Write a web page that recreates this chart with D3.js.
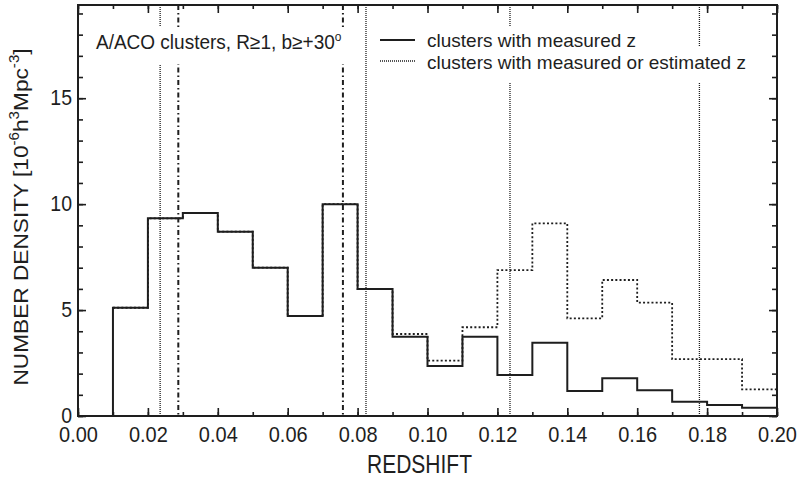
<!DOCTYPE html>
<html>
<head>
<meta charset="utf-8">
<script src="https://cdn.jsdelivr.net/npm/d3@7"></script>
<style>
  body { margin: 0; background: #fff; }
  svg { display: block; }
  text { font-family: "Liberation Sans", Arial, sans-serif; fill: #1e1e1e; }
</style>
</head>
<body>
<div id="chart"></div>
<script>
// histogram bins (lower edge of each 0.01 wide redshift bin)
const binStart = [0.01, 0.02, 0.03, 0.04, 0.05, 0.06, 0.07, 0.08, 0.09, 0.10,
                  0.11, 0.12, 0.13, 0.14, 0.15, 0.16, 0.17, 0.18, 0.19];
const binWidth = 0.01;

// clusters with measured z
const measured = [5.11, 9.33, 9.58, 8.70, 7.00, 4.72, 10.0, 5.99, 3.74, 2.36,
                  3.74, 1.93, 3.46, 1.18, 1.78, 1.21, 0.67, 0.52, 0.39];
// clusters with measured or estimated z
const measuredOrEst = [5.11, 9.33, 9.58, 8.70, 7.00, 4.72, 10.0, 5.99, 3.87, 2.61,
                       4.19, 6.89, 9.09, 4.61, 6.42, 5.35, 2.68, 2.68, 1.26];

// vertical reference lines
const dottedLines = [0.0235, 0.0824, 0.1236, 0.1778];
const dashDotLines = [0.0287, 0.0758];

const xMajor = [0.00, 0.02, 0.04, 0.06, 0.08, 0.10, 0.12, 0.14, 0.16, 0.18, 0.20];
const xMinor = d3.range(0, 21).map(i => i / 100);
const yMajor = [0, 5, 10, 15];
const yMinor = d3.range(0, 20);

const W = 804, H = 483;
const mLeft = 78, mRight = 777, mTop = 5, mBottom = 416;
const SY = 1.12;   // the scan is stretched a bit vertically

const svg = d3.select("#chart").append("svg")
    .attr("width", W).attr("height", H);

const x = d3.scaleLinear().domain([0, 0.2]).range([mLeft, mRight]);
const y = d3.scaleLinear().domain([0, 19.4]).range([mBottom, mTop]);

const ink = "#1e1e1e";

// reference lines
svg.selectAll(".vdot").data(dottedLines).enter().append("line")
    .attr("x1", d => x(d)).attr("x2", d => x(d))
    .attr("y1", mTop).attr("y2", mBottom)
    .attr("stroke", ink).attr("stroke-width", 1.3)
    .attr("stroke-dasharray", "1,1");

svg.selectAll(".vdd").data(dashDotLines).enter().append("line")
    .attr("x1", d => x(d)).attr("x2", d => x(d))
    .attr("y1", mTop).attr("y2", mBottom)
    .attr("stroke", ink).attr("stroke-width", 2)
    .attr("stroke-dasharray", "5,3,1.5,3");

// histogram lines
function stepPoints(vals, startFromZero) {
    const pts = binStart.map((b, i) => [b, vals[i]]);
    pts.push([binStart[binStart.length - 1] + binWidth, vals[vals.length - 1]]);
    if (startFromZero) pts.unshift([binStart[0], 0]);
    return pts;
}
const stepLine = d3.line()
    .x(d => x(d[0]))
    .y(d => y(d[1]))
    .curve(d3.curveStepAfter);

svg.append("path")
    .datum(stepPoints(measuredOrEst, false))
    .attr("fill", "none")
    .attr("stroke", ink)
    .attr("stroke-width", 1.8)
    .attr("stroke-dasharray", "2,2.2")
    .attr("d", stepLine);

svg.append("path")
    .datum(stepPoints(measured, true))
    .attr("fill", "none")
    .attr("stroke", ink)
    .attr("stroke-width", 2)
    .attr("d", stepLine);

// stretched text helper
function sText(x0, y0, size, sy) {
    return svg.append("g")
        .attr("transform", `translate(${x0},${y0}) scale(1,${sy})`)
        .append("text")
        .attr("font-size", size);
}

// header texts with white boxes behind (they interrupt the reference lines)
const title = sText(96, 49, 19, 1.05);
title.append("tspan").text("A/ACO clusters, R\u22651, b\u2265+30");
title.append("tspan").attr("font-size", 12).attr("dy", -8).text("o");

const leg1 = sText(427, 47, 19, 1);
leg1.text("clusters with measured z");
const leg2 = sText(427, 68.5, 19, 1);
leg2.text("clusters with measured or estimated z");

function whiteBox(t, x0, y0, extra) {
    const bb = t.node().getBBox();
    svg.insert("rect", "g")
        .attr("x", x0).attr("y", y0 - 22)
        .attr("width", bb.width + extra)
        .attr("height", 37)
        .attr("fill", "#fff");
}
whiteBox(title, 88, 49, 16);
whiteBox(leg1, 372, 48, 70);
whiteBox(leg2, 372, 68, 70);

// legend samples
svg.append("line")
    .attr("x1", 380).attr("x2", 415).attr("y1", 40).attr("y2", 40)
    .attr("stroke", ink).attr("stroke-width", 2);
svg.append("line")
    .attr("x1", 380).attr("x2", 415).attr("y1", 61).attr("y2", 61)
    .attr("stroke", ink).attr("stroke-width", 1.3)
    .attr("stroke-dasharray", "1,1");

// axes (ticks point inward on all sides)
function styleAxis(g) {
    g.select(".domain").remove();
    g.selectAll("line").attr("stroke", ink).attr("stroke-width", 1.6);
}

svg.append("g").attr("transform", `translate(0,${mBottom})`)
    .call(d3.axisBottom(x).tickValues(xMinor).tickSize(-4).tickFormat(""))
    .call(styleAxis);
const xAx = svg.append("g").attr("transform", `translate(0,${mBottom})`)
    .call(d3.axisBottom(x).tickValues(xMajor).tickSize(-8).tickPadding(10)
        .tickFormat(d3.format(".2f")))
    .call(styleAxis);
xAx.selectAll("text")
    .attr("font-size", 20).attr("fill", ink)
    .attr("transform", `scale(1,${SY})`)
    .attr("y", 10 / SY);

svg.append("g").attr("transform", `translate(0,${mTop})`)
    .call(d3.axisTop(x).tickValues(xMinor).tickSize(-4).tickFormat(""))
    .call(styleAxis);
svg.append("g").attr("transform", `translate(0,${mTop})`)
    .call(d3.axisTop(x).tickValues(xMajor).tickSize(-8).tickFormat(""))
    .call(styleAxis);

svg.append("g").attr("transform", `translate(${mLeft},0)`)
    .call(d3.axisLeft(y).tickValues(yMinor).tickSize(-5).tickFormat(""))
    .call(styleAxis);
const yAx = svg.append("g").attr("transform", `translate(${mLeft},0)`)
    .call(d3.axisLeft(y).tickValues(yMajor).tickSize(-8).tickPadding(6))
    .call(styleAxis);
yAx.selectAll("text")
    .attr("font-size", 19.5).attr("fill", ink)
    .attr("dy", "0.28em")
    .attr("transform", `scale(1,${SY})`);

svg.append("g").attr("transform", `translate(${mRight},0)`)
    .call(d3.axisRight(y).tickValues(yMinor).tickSize(-5).tickFormat(""))
    .call(styleAxis);
svg.append("g").attr("transform", `translate(${mRight},0)`)
    .call(d3.axisRight(y).tickValues(yMajor).tickSize(-8).tickFormat(""))
    .call(styleAxis);

// frame
svg.append("rect")
    .attr("x", mLeft).attr("y", mTop)
    .attr("width", mRight - mLeft).attr("height", mBottom - mTop)
    .attr("fill", "none").attr("stroke", ink).attr("stroke-width", 2);

// axis titles
sText(419.5, 473, 21, 1.2)
    .attr("text-anchor", "middle")
    .text("REDSHIFT");

const yl = svg.append("g")
    .attr("transform", `translate(28,217) rotate(-90) scale(1.08,1)`)
    .append("text")
    .attr("font-size", 21)
    .attr("text-anchor", "middle");
yl.append("tspan").text("NUMBER DENSITY  [10");
yl.append("tspan").attr("font-size", 14).attr("dy", -9).text("-6");
yl.append("tspan").attr("dy", 9).text("h");
yl.append("tspan").attr("font-size", 14).attr("dy", -9).text("3");
yl.append("tspan").attr("dy", 9).text("Mpc");
yl.append("tspan").attr("font-size", 14).attr("dy", -9).text("-3");
yl.append("tspan").attr("dy", 9).text("]");
</script>
</body>
</html>
